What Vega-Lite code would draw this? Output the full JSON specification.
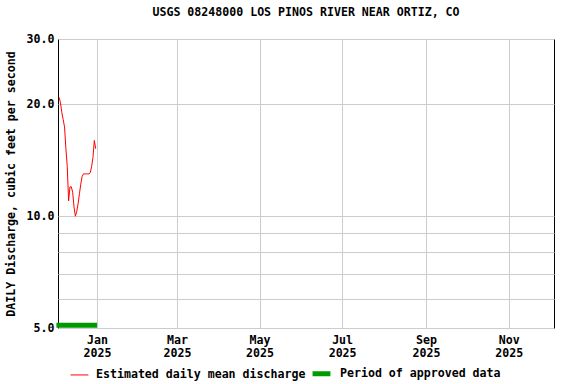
{
  "$schema": "https://vega.github.io/schema/vega-lite/v6.json",
  "width": 496,
  "height": 289,
  "autosize": "none",
  "padding": {"left": 58, "top": 39, "right": 22, "bottom": 56},
  "background": "white",
  "config": {
    "font": "DejaVu Sans Mono",
    "view": {"stroke": "black", "strokeWidth": 1},
    "axis": {"labelFont": "DejaVu Sans Mono", "labelFontWeight": "bold", "labelFontSize": 11.6, "labelColor": "black", "titleFont": "DejaVu Sans Mono", "titleFontWeight": "bold", "titleFontSize": 11.6, "titleColor": "black", "gridColor": "#cccccc", "gridOpacity": 1, "domain": false, "ticks": false}
  },
  "title": {"text": "USGS 08248000 LOS PINOS RIVER NEAR ORTIZ, CO", "font": "DejaVu Sans Mono", "fontWeight": "bold", "fontSize": 11.6, "color": "black", "offset": 14, "anchor": "middle"},
  "datasets": {
    "flow": [
      {"date": "2024-12-04T00:00:00", "q": 20.9},
      {"date": "2024-12-05T00:00:00", "q": 20.2},
      {"date": "2024-12-06T00:00:00", "q": 19.0},
      {"date": "2024-12-07T00:00:00", "q": 18.2},
      {"date": "2024-12-08T00:00:00", "q": 17.4},
      {"date": "2024-12-09T00:00:00", "q": 15.2},
      {"date": "2024-12-10T00:00:00", "q": 13.6},
      {"date": "2024-12-11T00:00:00", "q": 11.0},
      {"date": "2024-12-12T00:00:00", "q": 12.0},
      {"date": "2024-12-13T00:00:00", "q": 12.0},
      {"date": "2024-12-14T00:00:00", "q": 11.6},
      {"date": "2024-12-15T00:00:00", "q": 10.6},
      {"date": "2024-12-16T00:00:00", "q": 10.0},
      {"date": "2024-12-17T00:00:00", "q": 10.3},
      {"date": "2024-12-18T00:00:00", "q": 10.8},
      {"date": "2024-12-19T00:00:00", "q": 11.5},
      {"date": "2024-12-20T00:00:00", "q": 12.2},
      {"date": "2024-12-21T00:00:00", "q": 12.8},
      {"date": "2024-12-22T00:00:00", "q": 13.0},
      {"date": "2024-12-23T00:00:00", "q": 13.0},
      {"date": "2024-12-24T00:00:00", "q": 13.0},
      {"date": "2024-12-25T00:00:00", "q": 13.0},
      {"date": "2024-12-26T00:00:00", "q": 13.0},
      {"date": "2024-12-27T00:00:00", "q": 13.1},
      {"date": "2024-12-28T00:00:00", "q": 13.6},
      {"date": "2024-12-29T00:00:00", "q": 14.4},
      {"date": "2024-12-30T00:00:00", "q": 16.0},
      {"date": "2024-12-31T00:00:00", "q": 15.2}
    ],
    "approved": [
      {"start": "2024-12-02T00:00:00", "end": "2025-01-01T00:00:00", "q": 5.085}
    ]
  },
  "layer": [
    {
      "data": {"name": "flow"},
      "transform": [{"calculate": "'Estimated daily mean discharge'", "as": "series"}],
      "mark": {"type": "line", "strokeWidth": 1, "interpolate": "linear"},
      "encoding": {
        "x": {"field": "date", "type": "temporal",
              "scale": {"domain": [{"year": 2024, "month": 12, "date": 3, "hours": 4}, {"year": 2025, "month": 12, "date": 4, "hours": 12}]},
              "axis": {"title": null, "values": [{"year": 2025, "month": 1, "date": 1}, {"year": 2025, "month": 3, "date": 1}, {"year": 2025, "month": 5, "date": 1}, {"year": 2025, "month": 7, "date": 1}, {"year": 2025, "month": 9, "date": 1}, {"year": 2025, "month": 11, "date": 1}],
                       "labelExpr": "[timeFormat(datum.value, '%b'), timeFormat(datum.value, '%Y')]", "labelPadding": 6, "labelLineHeight": 13}},
        "y": {"field": "q", "type": "quantitative",
              "scale": {"type": "log", "domain": [5, 30], "nice": false},
              "axis": {"title": "DAILY Discharge, cubic feet per second", "values": [5, 6, 7, 8, 9, 10, 20, 30], "format": ".1f",
                       "labelExpr": "(datum.value == 5 || datum.value == 10 || datum.value == 20 || datum.value == 30) ? format(datum.value, '.1f') : ''",
                       "labelPadding": 4, "titlePadding": 10}},
        "color": {"field": "series", "type": "nominal",
                  "scale": {"domain": ["Estimated daily mean discharge", "Period of approved data"], "range": ["#ff0000", "#009900"]},
                  "legend": {"orient": "none", "legendX": 12, "legendY": 323, "direction": "horizontal", "title": null, "symbolType": "stroke", "symbolSize": 320, "labelFont": "DejaVu Sans Mono", "labelFontWeight": "bold", "labelFontSize": 11.6, "labelColor": "black", "columnPadding": -4, "labelOffset": 7, "labelLimit": 400}},
        "strokeWidth": {"field": "series", "type": "nominal",
                        "scale": {"domain": ["Estimated daily mean discharge", "Period of approved data"], "range": [1, 5]},
                        "legend": {"orient": "none", "legendX": 12, "legendY": 323, "direction": "horizontal", "title": null, "symbolType": "stroke", "symbolSize": 320}}
      }
    },
    {
      "data": {"name": "approved"},
      "transform": [{"calculate": "'Period of approved data'", "as": "series"}],
      "mark": {"type": "rule"},
      "encoding": {
        "x": {"field": "start", "type": "temporal"},
        "x2": {"field": "end"},
        "y": {"field": "q", "type": "quantitative"},
        "color": {"field": "series", "type": "nominal"},
        "strokeWidth": {"field": "series", "type": "nominal"}
      }
    }
  ]
}
